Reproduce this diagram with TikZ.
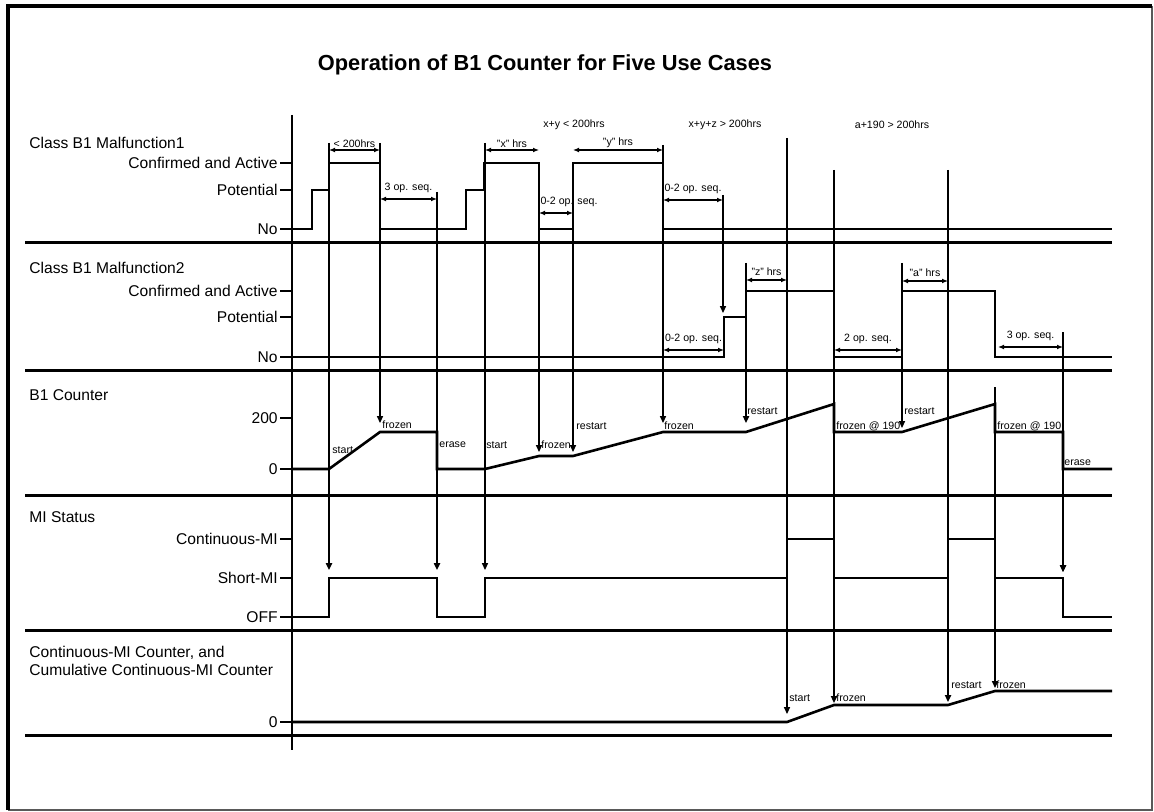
\documentclass[tikz,border=0pt]{standalone}
\usepackage{fontspec}
\setmainfont{Liberation Sans}
\usetikzlibrary{arrows.meta, positioning}
\newcommand{\lblFont}{\fontsize{7.8}{9.4}\selectfont}
\newcommand{\annFont}{\fontsize{5.3}{6.4}\selectfont}
\tikzset{
    frameLine/.style={line width=2.2pt},
    sepLine/.style={line width=1.5pt},
    sigLine/.style={line width=1.3pt, line join=miter},
    tickLine/.style={line width=0.8pt},
    axisLine/.style={line width=0.55pt},
    evtThin/.style={-{Triangle[length=3.4pt, width=3pt]}, line width=0.55pt},
    evtThick/.style={-{Triangle[length=3.4pt, width=3pt]}, line width=1.3pt},
    dimArrow/.style={{Latex[length=3pt, width=2.4pt]}-{Latex[length=3pt, width=2.4pt]}, line width=0.55pt},
    dimLbl/.style={midway, above=3pt, inner sep=0pt, font=\annFont},
    rowLbl/.style={anchor=west, inner sep=0pt, font=\lblFont},
    lvlLbl/.style={anchor=east, inner sep=0pt, font=\lblFont},
    noteLbl/.style={anchor=west, inner sep=0pt, font=\annFont},
}
\newcommand{\drawDim}[4][]{
    \draw[dimArrow] (#2) -- node[dimLbl, #1] {#4} (#3);
}
\begin{document}
\begin{tikzpicture}[x=0.5pt, y=-0.5pt]
    \useasboundingbox (0,0) rectangle (1154,812);

    % frame
    \draw[line width=0.9pt, gray!70!black] (8,810) -- (1152,810) -- (1152,6);
    \draw[frameLine] (8,810) -- (8,6) -- (1152,6);

    \node[font=\bfseries\fontsize{10.9}{13}\selectfont] (title) at (545,65) {Operation of B1 Counter for Five Use Cases};

    % rows
    \node[rowLbl] (mfaLbl) at (29,143) {Class B1 Malfunction1};
    \node[rowLbl] (mfbLbl) at (29,268) {Class B1 Malfunction2};
    \node[rowLbl] (cntLbl) at (29,395) {B1 Counter};
    \node[rowLbl] (miLbl) at (29,517) {MI Status};
    \node[rowLbl, align=left] (cmiLbl) at (29,661) {Continuous-MI Counter, and\\Cumulative Continuous-MI Counter};

    \foreach \y in {243, 370, 495, 630, 735}
        \draw[sepLine] (25,\y) -- (1112,\y);
    \draw[axisLine] (292,115) -- (292,750);

    % levels
    \foreach \nm/\y/\txt in {mfaCA/163/Confirmed and Active, mfaPo/190/Potential, mfaNo/229/No,
            mfbCA/291/Confirmed and Active, mfbPo/317/Potential, mfbNo/357/No,
            cntHi/418/200, cntLo/469/0,
            miCo/539/Continuous-MI, miSh/578/Short-MI, miOff/617/OFF, cmiLo/722/0} {
        \node[lvlLbl] (\nm) at (278,\y) {\txt};
        \draw[tickLine] ([xshift=1pt]\nm.east) -- ++(12,0);
    }

    % signals
    \draw[sigLine] (292,229) -- (312,229) -- (312,190) -- (329,190) -- (329,163) -- (380,163) -- (380,229)
        -- (466,229) -- (466,190) -- (484,190) -- (484,163) -- (539,163) -- (539,229) -- (573,229)
        -- (573,163) -- (663,163) -- (663,229) -- (1112,229);
    \draw[sigLine] (292,357) -- (724,357) -- (724,317) -- (746,317) -- (746,291) -- (834,291) -- (834,357)
        -- (902,357) -- (902,291) -- (995,291) -- (995,357) -- (1112,357);
    \draw[sigLine] (292,469) -- (329,469) -- (380,432) -- (437,432) -- (437,469) -- (485,469) -- (539,456)
        -- (573,456) -- (663,432) -- (746,432) -- (834,404) -- (834,432) -- (902,432) -- (995,404)
        -- (995,432) -- (1063,432) -- (1063,469) -- (1112,469);
    \draw[sigLine] (292,617) -- (329,617) -- (329,578) -- (437,578) -- (437,617) -- (485,617) -- (485,578)
        -- (787,578) -- (787,539) -- (834,539) -- (834,578) -- (948,578) -- (948,539) -- (995,539)
        -- (995,578) -- (1063,578) -- (1063,617) -- (1112,617);
    \draw[sigLine] (292,722) -- (787,722) -- (834,705) -- (948,705) -- (995,691) -- (1112,691);

    % events
    \foreach \ev/\x/\ya/\yb/\st in {ev1/329/143/570/evtThick, ev2/380/143/423/evtThin, ev3/437/192/570/evtThick,
            ev4/485/143/570/evtThin, ev5/539/163/452/evtThin, ev6/573/163/452/evtThin,
            ev7/663/145/423/evtThin, ev8/723/195/313/evtThin, ev9/746/263/423/evtThick,
            ev10/787/138/714/evtThin, ev11/834/170/703/evtThick, ev12/902/263/428/evtThin,
            ev13/948/170/702/evtThick, ev14/995/387/688/evtThin, ev15/1063/332/572/evtThin} {
        \coordinate (\ev-top) at (\x,\ya);
        \coordinate (\ev-tip) at (\x,\yb);
        \draw[\st] (\ev-top) -- (\ev-tip);
    }
    \coordinate (ev15-mid) at (1063,400);
    \draw[evtThick] (ev15-mid) -- (ev15-tip);

    % durations
    \foreach \nm/\xa/\xb/\y in {dA/329/380/150, dB/380/437/199, dC/485/539/150, dD/539/573/213, dE/573/663/150,
            dF/663/723/200, dG/663/724/350, dH/746/787/280, dI/834/902/350, dJ/902/948/281, dK/998/1063/347} {
        \coordinate (\nm-l) at (\xa,\y);
        \coordinate (\nm-r) at (\xb,\y);
    }
    \drawDim[above=1pt]{dA-l}{dA-r}{< 200hrs}
    \drawDim{dB-l}{dB-r}{3 op. seq.}
    \drawDim[above=1pt]{dC-l}{dC-r}{"x" hrs}
    \drawDim[pos=0, above=3pt, anchor=south west, xshift=0.5pt]{dD-l}{dD-r}{0-2 op. seq.}
    \drawDim[above=1pt]{dE-l}{dE-r}{"y" hrs}
    \drawDim{dF-l}{dF-r}{0-2 op. seq.}
    \drawDim{dG-l}{dG-r}{0-2 op. seq.}
    \drawDim[above=2pt]{dH-l}{dH-r}{"z" hrs}
    \drawDim{dI-l}{dI-r}{2 op. seq.}
    \drawDim[above=2pt]{dJ-l}{dJ-r}{"a" hrs}
    \drawDim{dK-l}{dK-r}{3 op. seq.}

    \node[font=\annFont] (sumA) at (574,125) {x+y < 200hrs};
    \node[font=\annFont] (sumB) at (725,125) {x+y+z > 200hrs};
    \node[font=\annFont] (sumC) at (892,125) {a+190 > 200hrs};

    % counter notes
    \node[noteLbl] (n1) at (332,450) {start};
    \node[noteLbl] (n2) at (382,425) {frozen};
    \node[noteLbl] (n3) at (439,445) {erase};
    \node[noteLbl] (n4) at (486,445) {start};
    \node[noteLbl] (n5) at (541,445) {frozen};
    \node[noteLbl] (n6) at (576,426) {restart};
    \node[noteLbl] (n7) at (664,426) {frozen};
    \node[noteLbl] (n8) at (747,411) {restart};
    \node[noteLbl] (n9) at (836,426) {frozen @ 190};
    \node[noteLbl] (n10) at (904,411) {restart};
    \node[noteLbl] (n11) at (997,426) {frozen @ 190};
    \node[noteLbl] (n12) at (1064,463) {erase};

    \node[noteLbl] (m1) at (789,698) {start};
    \node[noteLbl] (m2) at (836,698) {frozen};
    \node[noteLbl] (m3) at (951,685) {restart};
    \node[noteLbl] (m4) at (996,685) {frozen};

\end{tikzpicture}
\end{document}
